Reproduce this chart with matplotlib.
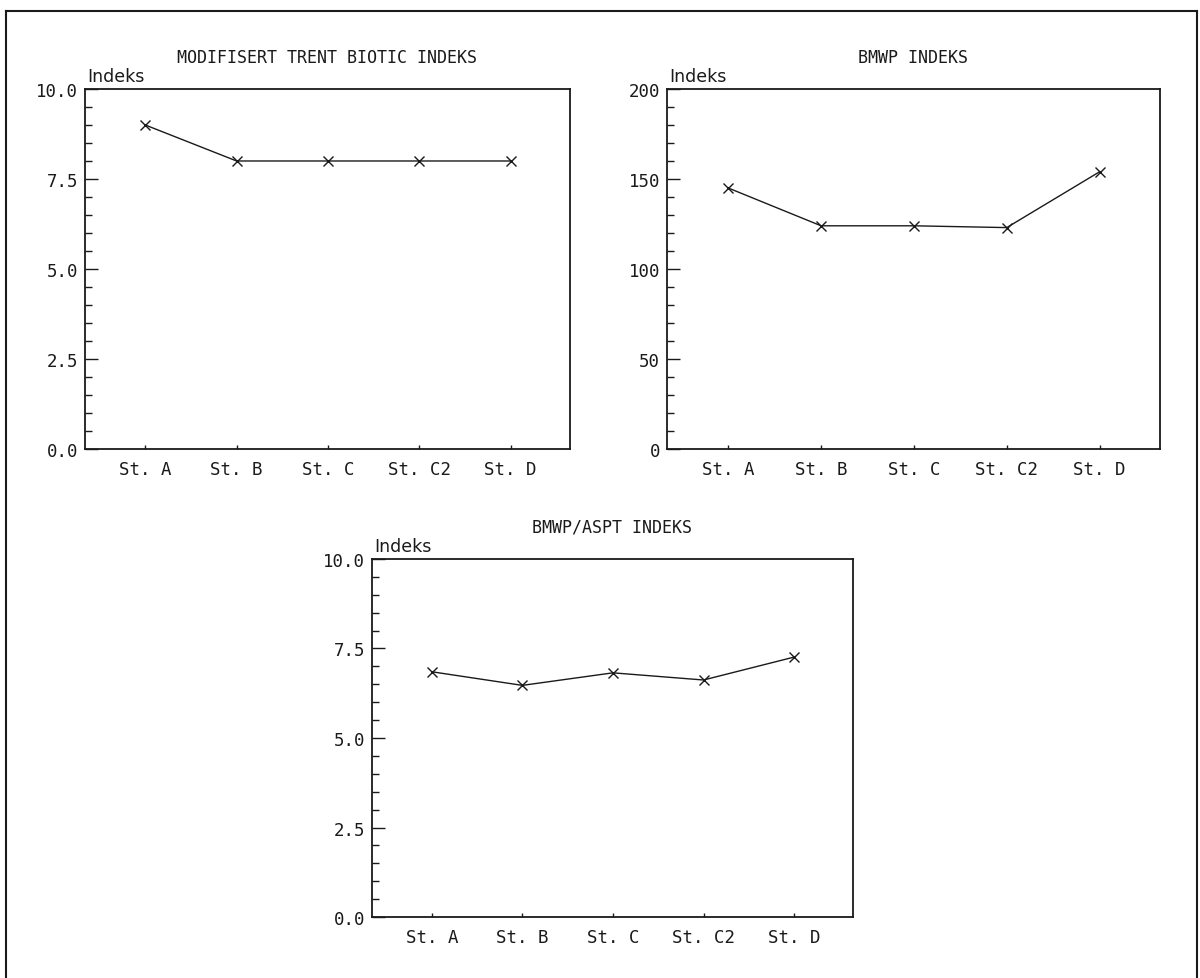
import matplotlib
matplotlib.use("Agg")
import matplotlib.pyplot as plt
from matplotlib.ticker import MultipleLocator, FormatStrFormatter
from matplotlib.lines import Line2D

# stasjoner og indeksverdier
stations = ["St. A", "St. B", "St. C", "St. C2", "St. D"]
tbi_values = [9.0, 8.0, 8.0, 8.0, 8.0]
bmwp_values = [145, 124, 124, 123, 154]
aspt_values = [6.85, 6.47, 6.82, 6.62, 7.26]

titles = ["MODIFISERT TRENT BIOTIC INDEKS", "BMWP INDEKS", "BMWP/ASPT INDEKS"]

plt.rcParams['font.family'] = ['DejaVu Sans Mono', 'DejaVu Sans']
INK = "#1a1a1a"
FS = 12.5


def draw_panel(ax, values, title, ymax, major, minor, fmt):
    x = range(len(stations))
    ax.plot(x, values, color=INK, lw=1.0, marker='x', ms=6.5, mew=1.0)
    ax.set_xlim(-0.66, len(stations) - 1 + 0.65)
    ax.set_ylim(0, ymax)
    ax.set_xticks(list(x))
    ax.set_xticklabels(stations, fontsize=FS, color=INK)
    ax.yaxis.set_major_locator(MultipleLocator(major))
    ax.yaxis.set_minor_locator(MultipleLocator(minor))
    ax.yaxis.set_major_formatter(FormatStrFormatter(fmt))
    ax.tick_params(axis='y', which='major', direction='in', length=9.5,
                   width=1.0, labelsize=FS, pad=5, colors=INK)
    ax.tick_params(axis='y', which='minor', direction='in', length=5,
                   width=1.0, colors=INK)
    ax.tick_params(axis='x', which='major', direction='in', length=3,
                   width=1.0, pad=8, colors=INK)
    for s in ax.spines.values():
        s.set_linewidth(1.3)
        s.set_color(INK)
    ax.text(0.5, 1.09, title, transform=ax.transAxes, ha='center',
            va='center', fontsize=FS - 0.5, color=INK)
    ax.text(0.005, 1.035, "Indeks", transform=ax.transAxes, ha='left',
            va='center', fontsize=FS, color=INK, family='DejaVu Sans')


fig = plt.figure(figsize=(12, 9.79), dpi=100)

ax1 = fig.add_axes([0.0708, 0.5403, 0.4042, 0.3678])
ax2 = fig.add_axes([0.5558, 0.5403, 0.4108, 0.3678])
ax3 = fig.add_axes([0.3100, 0.0623, 0.4008, 0.3657])

draw_panel(ax1, tbi_values, titles[0], 10.0, 2.5, 0.5, '%.1f')
draw_panel(ax2, bmwp_values, titles[1], 200, 50, 10, '%d')
draw_panel(ax3, aspt_values, titles[2], 10.0, 2.5, 0.5, '%.1f')

# ramme rundt hele figuren (venstre, topp, hoyre)
fx0, fx1, fy1 = 0.005, 0.9975, 0.9877
fig.add_artist(Line2D([fx0, fx0], [0, fy1], color=INK, lw=1.5))
fig.add_artist(Line2D([fx0, fx1], [fy1, fy1], color=INK, lw=1.5))
fig.add_artist(Line2D([fx1, fx1], [0, fy1], color=INK, lw=1.5))

fig.savefig("out.png", dpi=100, facecolor="white")
